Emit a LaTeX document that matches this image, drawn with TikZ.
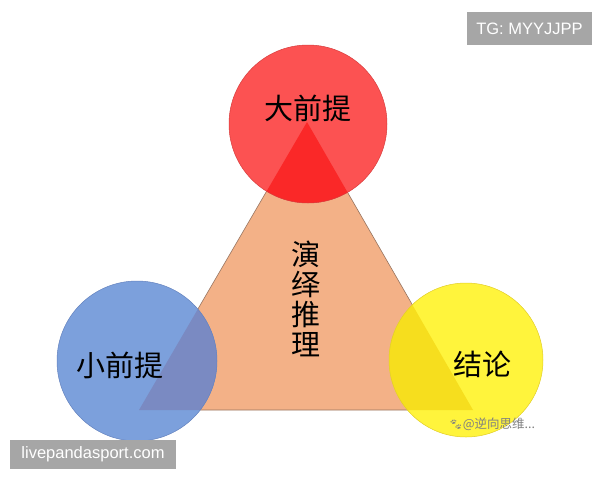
\documentclass[tikz,border=0pt]{standalone}
\usepackage{fontspec}
\setmainfont{Liberation Sans}
\newfontfamily\cjk{Noto Sans CJK SC}
\newfontfamily\emojifont{Noto Emoji}
\definecolor{peach}{RGB}{243,177,135}
\definecolor{peachedge}{RGB}{150,115,95}
\definecolor{redc}{RGB}{252,82,82}
\definecolor{redx}{RGB}{250,40,40}
\definecolor{rededge}{RGB}{215,60,60}
\definecolor{bluec}{RGB}{124,160,220}
\definecolor{bluex}{RGB}{122,138,194}
\definecolor{blueedge}{RGB}{100,130,190}
\definecolor{yelc}{RGB}{255,244,60}
\definecolor{yelx}{RGB}{246,222,30}
\definecolor{yeledge}{RGB}{225,205,40}
\definecolor{boxgray}{RGB}{166,166,166}

\begin{document}
\begin{tikzpicture}[x=1pt,y=-1pt,
  termtext/.style={font=\cjk\fontsize{29}{30}\selectfont, inner sep=0pt, text=black},
  tagbox/.style={fill=boxgray, text=white, font=\fontsize{16.5}{18}\selectfont, inner sep=0pt}]
\useasboundingbox (0,0) rectangle (600,480);
% triangle corners and circle centres
\coordinate (apex) at (307,122);
\coordinate (baseL) at (139,410);
\coordinate (baseR) at (473,410);
\coordinate (majorc) at (308,124);
\coordinate (minorc) at (137,361);
\coordinate (concc) at (466,360);
% triangle
\fill [peach] (apex) -- (baseL) -- (baseR) -- cycle;
\draw [peachedge, line width=0.6pt] (apex) -- (baseL) -- (baseR) -- cycle;
% circles with their overlaps
\fill [redc] (majorc) circle (79);
\begin{scope}
\clip (majorc) circle (79);
\fill [redx] (apex) -- (baseL) -- (baseR) -- cycle;
\end{scope}
\draw [rededge, line width=0.5pt] (majorc) circle (79);
\fill [bluec] (minorc) circle (80);
\begin{scope}
\clip (minorc) circle (80);
\fill [bluex] (apex) -- (baseL) -- (baseR) -- cycle;
\end{scope}
\draw [blueedge, line width=0.5pt] (minorc) circle (80);
\fill [yelc] (concc) circle (77);
\begin{scope}
\clip (concc) circle (77);
\fill [yelx] (apex) -- (baseL) -- (baseR) -- cycle;
\end{scope}
\draw [yeledge, line width=0.5pt] (concc) circle (77);
% labels
\node [termtext] (major) at (308,108) {大前提};
\node [termtext] (minor) at (120,365) {小前提};
\node [termtext] (conclusion) at (482,364) {结论};
\node [termtext, align=center] (deduction) at (306,299) {演\\绎\\推\\理};
\node [text=gray, inner sep=0pt] (credit) at (492,424)
  {{\emojifont\fontsize{11}{11}\selectfont 🐾}{\cjk\fontsize{12.5}{13}\selectfont @逆向思维...}};
% watermarks
\node [tagbox, minimum width=125pt, minimum height=33pt] (tg) at (529.5,28.5) {TG: MYYJJPP};
\node [tagbox, minimum width=166pt, minimum height=29pt] (site) at (93,454.5) {livepandasport.com};
\end{tikzpicture}
\end{document}
